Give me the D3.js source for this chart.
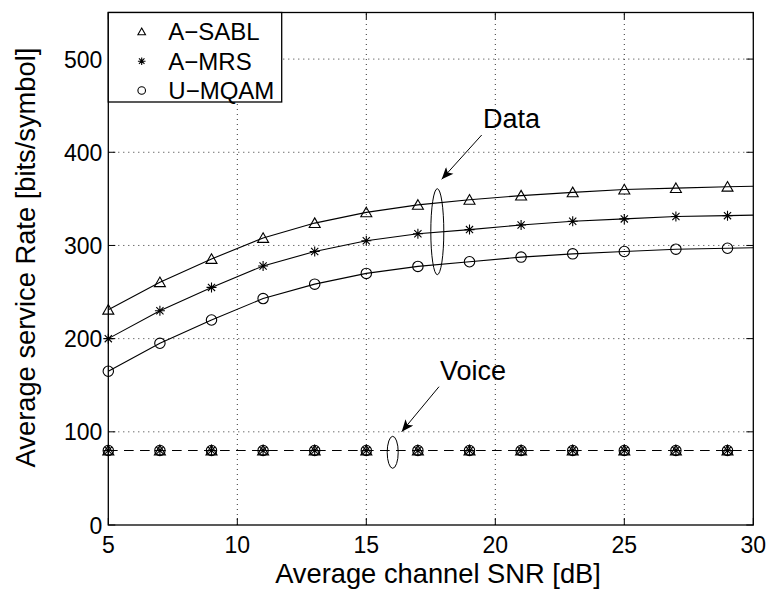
<!DOCTYPE html>
<html>
<head>
<meta charset="utf-8">
<script src="https://cdn.jsdelivr.net/npm/d3@7"></script>
<style>
  html, body { margin: 0; padding: 0; background: #fff; }
  svg { display: block; font-family: "Liberation Sans", Arial, Helvetica, sans-serif; }
</style>
</head>
<body>
<svg id="chart" width="768" height="589"></svg>
<script>
// Average channel SNR [dB] at which each curve is evaluated (markers at odd values, line runs to 30)
const snr = [5, 7, 9, 11, 13, 15, 17, 19, 21, 23, 25, 27, 29, 30];
const markerCount = 13;

// Data traffic service rate [bits/symbol]
const dataSABL = [231, 260.5, 285.5, 308, 324, 335.5, 343.5, 349, 353.5, 357, 360, 361.5, 363, 363.5];
const dataMRS  = [200, 230, 255, 278, 293.5, 305, 312.5, 317, 322, 326, 328.5, 331, 332, 332.5];
const dataMQAM = [165, 195, 220, 243, 258.5, 270, 277.5, 282.5, 287.5, 291, 293.5, 296, 297, 297.5];

// Voice traffic service rate [bits/symbol] (constant)
const voiceSABL = [80, 80, 80, 80, 80, 80, 80, 80, 80, 80, 80, 80, 80, 80];
const voiceMRS  = [80, 80, 80, 80, 80, 80, 80, 80, 80, 80, 80, 80, 80, 80];
const voiceMQAM = [80, 80, 80, 80, 80, 80, 80, 80, 80, 80, 80, 80, 80, 80];

const xTicks = [5, 10, 15, 20, 25, 30];
const yTicks = [0, 100, 200, 300, 400, 500];
const legendLabels = ["A\u2212SABL", "A\u2212MRS", "U\u2212MQAM"];

const svg = d3.select("#chart");
const plotL = 108.3, plotR = 753.3, plotT = 12.5, plotB = 525;

const x = d3.scaleLinear().domain([5, 30]).range([plotL, plotR]);
const y = d3.scaleLinear().domain([0, 550]).range([plotB, plotT]);

// marker painters
function markerTriangle(g, s) {
  g.append("path")
    .attr("d", `M0,${-0.95 * s}L${s},${0.8 * s}L${-s},${0.8 * s}Z`)
    .attr("fill", "none").attr("stroke", "#000").attr("stroke-width", 1.1);
}
function markerStar(g, s) {
  const d = s * 0.72;
  g.append("path")
    .attr("d", `M0,${-s}V${s}M${-s},0H${s}M${-d},${-d}L${d},${d}M${-d},${d}L${d},${-d}`)
    .attr("fill", "none").attr("stroke", "#000").attr("stroke-width", 1.1);
}
function markerCircle(g, s) {
  g.append("circle").attr("r", s)
    .attr("fill", "none").attr("stroke", "#000").attr("stroke-width", 1.1);
}
const painters = [markerTriangle, markerStar, markerCircle];
const markerSizes = [5.5, 5, 5.2];

// grid
const grid = svg.append("g");
grid.selectAll("line.gx").data(xTicks.slice(1, -1)).join("line")
  .attr("x1", d => x(d)).attr("x2", d => x(d))
  .attr("y1", plotB).attr("y2", plotT)
  .attr("stroke", "#333").attr("stroke-width", 1).attr("stroke-dasharray", "1,4");
grid.selectAll("line.gy").data(yTicks.slice(1)).join("line")
  .attr("y1", d => y(d)).attr("y2", d => y(d))
  .attr("x1", plotL).attr("x2", plotR)
  .attr("stroke", "#333").attr("stroke-width", 1).attr("stroke-dasharray", "1,4");

// series
const line = d3.line().x((d, i) => x(snr[i])).y(d => y(d));
const dataSeries = [dataSABL, dataMRS, dataMQAM];
const voiceSeries = [voiceSABL, voiceMRS, voiceMQAM];

function drawSeries(values, k, dashed) {
  const g = svg.append("g");
  g.append("path").attr("d", line(values))
    .attr("fill", "none").attr("stroke", "#000").attr("stroke-width", 1.1)
    .attr("stroke-dasharray", dashed ? "9,7" : null);
  values.slice(0, markerCount).forEach((v, i) => {
    const m = g.append("g").attr("transform", `translate(${x(snr[i])},${y(v)})`);
    painters[k](m, markerSizes[k]);
  });
}
dataSeries.forEach((s, k) => drawSeries(s, k, false));
voiceSeries.forEach((s, k) => drawSeries(s, k, true));

// axes box with inward ticks on all sides
const axes = svg.append("g");
const tickLen = 7;
axes.selectAll("line.tb").data(xTicks).join("line")
  .attr("x1", d => x(d)).attr("x2", d => x(d))
  .attr("y1", plotB).attr("y2", plotB - tickLen)
  .attr("stroke", "#000");
axes.selectAll("line.tt").data(xTicks).join("line")
  .attr("x1", d => x(d)).attr("x2", d => x(d))
  .attr("y1", plotT).attr("y2", plotT + tickLen)
  .attr("stroke", "#000");
axes.selectAll("line.tl").data(yTicks).join("line")
  .attr("y1", d => y(d)).attr("y2", d => y(d))
  .attr("x1", plotL).attr("x2", plotL + tickLen)
  .attr("stroke", "#000");
axes.selectAll("line.tr").data(yTicks).join("line")
  .attr("y1", d => y(d)).attr("y2", d => y(d))
  .attr("x1", plotR).attr("x2", plotR - tickLen)
  .attr("stroke", "#000");
axes.append("rect")
  .attr("x", plotL).attr("y", plotT).attr("width", plotR - plotL).attr("height", plotB - plotT)
  .attr("fill", "none").attr("stroke", "#000").attr("stroke-width", 1.3);

// tick labels
axes.selectAll("text.xt").data(xTicks).join("text")
  .attr("x", d => x(d)).attr("y", 553)
  .attr("text-anchor", "middle").attr("font-size", 23).text(d => d);
axes.selectAll("text.yt").data(yTicks).join("text")
  .attr("x", plotL - 6).attr("y", d => y(d) + 8.5)
  .attr("text-anchor", "end").attr("font-size", 23).text(d => d);

// axis titles
svg.append("text").attr("x", 438).attr("y", 583)
  .attr("text-anchor", "middle").attr("font-size", 27.3)
  .text("Average channel SNR [dB]");
svg.append("text").attr("transform", "translate(35,257.5) rotate(-90)")
  .attr("text-anchor", "middle").attr("font-size", 27.3)
  .text("Average service Rate [bits/symbol]");

// annotations
const defs = svg.append("defs");
defs.append("marker").attr("id", "arrowhead")
  .attr("viewBox", "0 0 12 10").attr("refX", 12).attr("refY", 5)
  .attr("markerWidth", 14).attr("markerHeight", 10).attr("markerUnits", "userSpaceOnUse")
  .attr("orient", "auto")
  .append("path").attr("d", "M0,0L12,5L0,10L3,5Z").attr("fill", "#000");

function annotate(label, tx, ty, x1, y1, x2, y2, cx, cy, rx, ry) {
  svg.append("text").attr("x", tx).attr("y", ty).attr("font-size", 27).text(label);
  svg.append("line").attr("x1", x1).attr("y1", y1).attr("x2", x2).attr("y2", y2)
    .attr("stroke", "#000").attr("stroke-width", 1).attr("marker-end", "url(#arrowhead)");
  svg.append("ellipse").attr("cx", cx).attr("cy", cy).attr("rx", rx).attr("ry", ry)
    .attr("fill", "none").attr("stroke", "#000").attr("stroke-width", 1);
}
annotate("Data", 483, 127.5, 481.7, 135, 441.7, 179.3, 437.3, 231.7, 6.5, 43);
annotate("Voice", 440, 380, 439, 386.7, 401.7, 431.7, 392.7, 452.3, 5.5, 16);

// legend
const legend = svg.append("g");
legend.append("rect").attr("x", plotL).attr("y", plotT).attr("width", 281.7 - plotL).attr("height", 102 - plotT)
  .attr("fill", "#fff").attr("stroke", "#000").attr("stroke-width", 1.3);
const rowsY = [31.7, 61.2, 90.5];
legendLabels.forEach((lab, k) => {
  const m = legend.append("g").attr("transform", `translate(141.7,${rowsY[k]})`);
  painters[k](m, 3.8);
  legend.append("text").attr("x", 168.3).attr("y", rowsY[k] + 8.6)
    .attr("font-size", 24).text(lab);
});
</script>
</body>
</html>
